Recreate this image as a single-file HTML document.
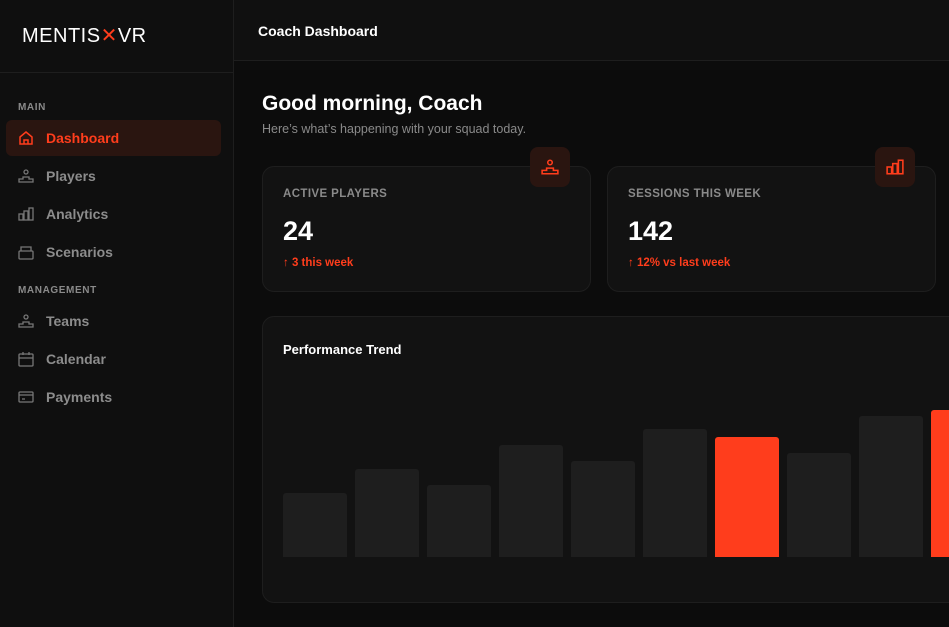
<!DOCTYPE html>
<html><head><style>
*{margin:0;padding:0;box-sizing:border-box}
body{width:949px;height:627px;overflow:hidden;background:#0c0c0c;font-family:"Liberation Sans",sans-serif;position:relative}
.sb{position:absolute;left:0;top:0;width:234px;height:627px;background:#0f0f0f;border-right:1px solid #1e1e1e}
.logo{position:absolute;left:22px;top:23px;color:#fff;font-size:20px;letter-spacing:0.5px}
.sbline{position:absolute;left:0;top:72px;width:233px;height:1px;background:#1e1e1e}
.sec{position:absolute;left:18px;font-size:10px;font-weight:bold;color:#8a8a8a;letter-spacing:0.6px}
.item{position:absolute;left:6px;width:215px;height:36px;border-radius:6px;color:#8c8c8c;font-size:14px;font-weight:bold;padding-left:40px;line-height:36px}
.item svg{position:absolute;left:12px;top:10px}
.act{background:#2a1510;color:#ff3d1c}
.hdr{position:absolute;left:234px;top:0;right:0;height:61px;background:#101010;border-bottom:1px solid #1e1e1e}
.hdr span{position:absolute;left:24px;top:23px;color:#fff;font-size:14px;font-weight:bold}
h1{position:absolute;left:262px;top:92px;color:#fff;font-size:21px;font-weight:bold}
.sub{position:absolute;left:262px;top:122px;color:#8a8a8a;font-size:12.5px}
.card{position:absolute;background:#121212;border:1px solid #1e1e1e;border-radius:12px}
.lbl{position:absolute;left:20px;top:21px;color:#8a8a8a;font-size:11.5px;font-weight:bold;letter-spacing:0.4px}
.val{position:absolute;left:20px;top:49px;color:#fff;font-size:27px;font-weight:bold}
.chg{position:absolute;left:20px;top:90px;color:#ff3d1c;font-size:11.5px;font-weight:bold}
.ib{position:absolute;width:40px;height:40px;border-radius:8px;background:#2a1510}
.ib svg{position:absolute;left:11px;top:11px}
.bar{position:absolute;width:64px;background:#1e1e1e;border-radius:3px 3px 0 0;bottom:45px}
.red{background:#ff3d1c}
</style></head><body>
<div class="sb">
<div class="logo">MENTIS<span style="color:#ff3d1c;font-weight:normal">✕</span>VR</div>
<div class="sbline"></div>
<div class="sec" style="top:102px">MAIN</div>
<div class="item act" style="top:120px"><svg width="16" height="16" viewBox="0 0 16 16" fill="none" stroke="#ff3d1c" stroke-width="1.5"><path d="M2 7L8 2l6 5v7H2z M6 14v-4h4v4"/></svg>Dashboard</div>
<div class="item" style="top:158px"><svg width="16" height="16" viewBox="0 0 16 16" fill="none" stroke="#777" stroke-width="1.3"><circle cx="8" cy="4" r="2"/><path d="M1 14v-3h4v-2h6v2h4v3z"/></svg>Players</div>
<div class="item" style="top:196px"><svg width="16" height="16" viewBox="0 0 16 16" fill="none" stroke="#777" stroke-width="1.3"><rect x="1" y="8" width="4" height="6"/><rect x="6" y="5" width="4" height="9"/><rect x="11" y="2" width="4" height="12"/></svg>Analytics</div>
<div class="item" style="top:234px"><svg width="16" height="16" viewBox="0 0 16 16" fill="none" stroke="#777" stroke-width="1.3"><rect x="1" y="7" width="14" height="8" rx="1"/><path d="M3 7V3h10v4"/></svg>Scenarios</div>
<div class="sec" style="top:285px">MANAGEMENT</div>
<div class="item" style="top:303px"><svg width="16" height="16" viewBox="0 0 16 16" fill="none" stroke="#777" stroke-width="1.3"><circle cx="8" cy="4" r="2"/><path d="M1 14v-3h4v-2h6v2h4v3z"/></svg>Teams</div>
<div class="item" style="top:341px"><svg width="16" height="16" viewBox="0 0 16 16" fill="none" stroke="#777" stroke-width="1.3"><rect x="1" y="3" width="14" height="12" rx="1"/><path d="M1 7h14M5 1v3M11 1v3"/></svg>Calendar</div>
<div class="item" style="top:379px"><svg width="16" height="16" viewBox="0 0 16 16" fill="none" stroke="#777" stroke-width="1.3"><rect x="1" y="3" width="14" height="10" rx="1"/><path d="M1 6h14M4 10h3"/></svg>Payments</div>
</div>
<div class="hdr"><span>Coach Dashboard</span></div>
<h1>Good morning, Coach</h1>
<div class="sub">Here’s what’s happening with your squad today.</div>
<div class="card" style="left:262px;top:166px;width:329px;height:126px"><div class="lbl">ACTIVE PLAYERS</div><div class="val">24</div><div class="chg">↑ 3 this week</div></div>
<div class="card" style="left:607px;top:166px;width:329px;height:126px"><div class="lbl">SESSIONS THIS WEEK</div><div class="val">142</div><div class="chg">↑ 12% vs last week</div></div>
<div class="ib" style="left:530px;top:147px"><svg width="18" height="18" viewBox="0 0 16 16" fill="none" stroke="#ff3d1c" stroke-width="1.4"><circle cx="8" cy="4" r="2"/><path d="M1 14v-3h4v-2h6v2h4v3z"/></svg></div>
<div class="ib" style="left:875px;top:147px"><svg width="18" height="18" viewBox="0 0 16 16" fill="none" stroke="#ff3d1c" stroke-width="1.4"><rect x="1" y="8" width="4" height="6"/><rect x="6" y="5" width="4" height="9"/><rect x="11" y="2" width="4" height="12"/></svg></div>
<div class="card" style="left:262px;top:316px;width:720px;height:287px">
<div style="position:absolute;left:20px;top:25px;color:#fff;font-size:13px;font-weight:bold">Performance Trend</div>
<div class="bar" style="left:20px;height:64px"></div>
<div class="bar" style="left:92px;height:88px"></div>
<div class="bar" style="left:164px;height:72px"></div>
<div class="bar" style="left:236px;height:112px"></div>
<div class="bar" style="left:308px;height:96px"></div>
<div class="bar" style="left:380px;height:128px"></div>
<div class="bar red" style="left:452px;height:120px"></div>
<div class="bar" style="left:524px;height:104px"></div>
<div class="bar" style="left:596px;height:141px"></div>
<div class="bar red" style="left:668px;height:147px"></div>
</div>
</body></html>
